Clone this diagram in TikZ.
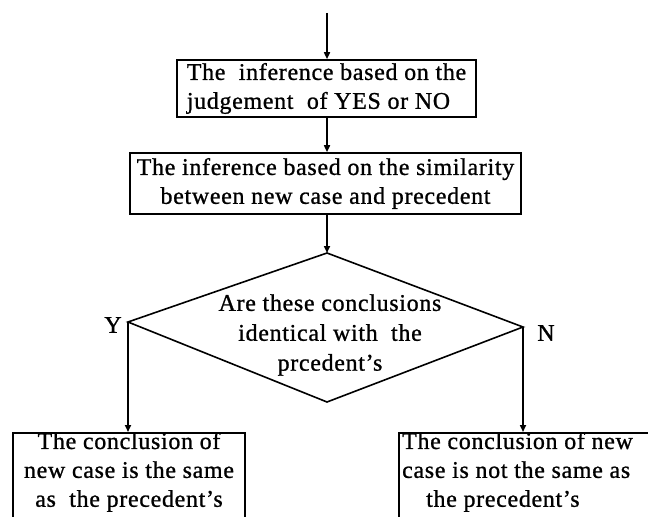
\documentclass[tikz,border=0pt]{standalone}
\usepackage{fontspec}
\setmainfont{Liberation Serif}[LetterSpace=3,FakeBold=1]
\usetikzlibrary{arrows.meta}
\begin{document}
\begin{tikzpicture}[x=1bp,y=-1bp,
  every node/.style={font=\fontsize{24}{29}\selectfont},
  box/.style={draw, line width=1.6bp, inner ysep=0pt, inner xsep=3bp},
  txt/.style={inner sep=0pt},
  edge/.style={line width=1.6bp},
  flow/.style={line width=1.6bp, -{Triangle[length=7bp,width=6bp]}},
]
\useasboundingbox (0,0) rectangle (648,517);
\clip (0,0) rectangle (648,517);
\coordinate (start) at (327,13);
\node[box, align=left, minimum width=299bp, minimum height=57bp] (b1) at (326.5,88.5)
  {The\ \ inference based on the\\judgement\ \ of YES or NO};
\node[box, align=center, minimum width=391bp, minimum height=61bp] (b2) at (325.5,183.5)
  {The inference based on the similarity\\between new case and precedent};
\coordinate (dT) at (327,253);
\coordinate (dL) at (128,322);
\coordinate (dR) at (523,327);
\coordinate (dB) at (327,402);
\draw[edge] (dT) -- (dR) -- (dB) -- (dL) -- cycle;
\node[txt, align=center, font=\fontsize{24}{30}\selectfont] (q) at (330,335)
  {Are these conclusions\\identical with\ \ the\\prcedent's};
\node[txt] (ly) at (113,325) {Y};
\node[txt] (ln) at (546,333) {N};
\node[box, minimum width=232bp, minimum height=120bp, anchor=north] (b3) at (129,432) {};
\node[txt, align=center] (t3) at (129,472) {The conclusion of\\new case is the same\\as\ \ the precedent's};
\node[box, minimum width=252bp, minimum height=120bp, anchor=north west] (b4) at (398,432) {};
\node[txt, align=left, anchor=west] (t4) at (402,472) {The conclusion of new\\case is not the same as\\\hspace*{24bp}the precedent's};
\draw[flow] (start) -- (start |- b1.north);
\draw[flow] (b1.south -| start) -- (start |- b2.north);
\draw[flow] (b2.south -| dT) -- (dT);
\draw[flow] (dL) -- (dL |- b3.north);
\draw[flow] (dR) -- (dR |- b4.north);
\end{tikzpicture}
\end{document}
